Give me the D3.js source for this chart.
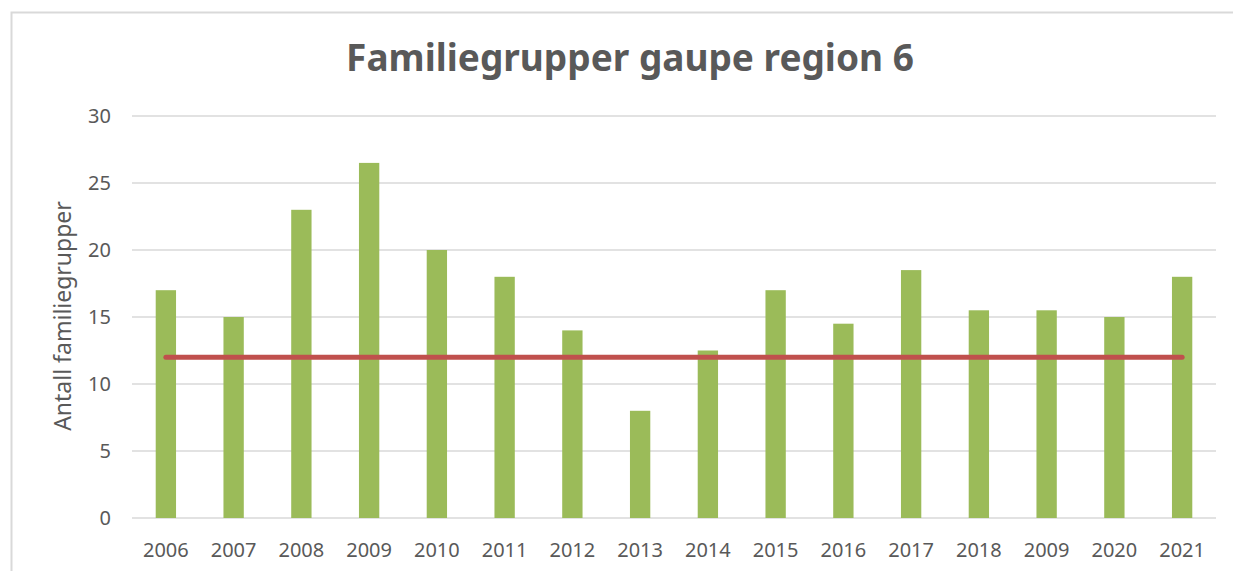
<!DOCTYPE html>
<html>
<head>
<meta charset="utf-8">
<script src="https://cdn.jsdelivr.net/npm/d3@7"></script>
<style>
body{margin:0;background:#fff;}
text{font-family:"Noto Sans","Open Sans",sans-serif;fill:#595959;}
</style>
</head>
<body>
<div id="chart"></div>
<script>
var years = ["2006","2007","2008","2009","2010","2011","2012","2013","2014","2015","2016","2017","2018","2009","2020","2021"]
var counts = [17,15,23,26.5,20,18,14,8,12.5,17,14.5,18.5,15.5,15.5,15,18]
var target = 12
var yTicks = [0,5,10,15,20,25,30]
var title = "Familiegrupper gaupe region 6"
var yTitle = "Antall familiegrupper"

var width = 1233
var height = 571
var plotLeft = 132, plotRight = 1216, plotTop = 116, plotBottom = 518

var svg = d3.select("#chart").append("svg").attr("width",width).attr("height",height)

// frame round the chart area
svg.append("path")
.attr("d","M11.5,"+height+" V12.5 H"+width)
.attr("fill","none")
.attr("stroke","#d9d9d9")
.attr("stroke-width",2)

var idx = d3.range(years.length)
var xScale = d3.scaleBand().domain(idx).range([plotLeft,plotRight]).paddingInner(0.7).paddingOuter(0.35)
var yScale = d3.scaleLinear().domain([0,30]).range([plotBottom,plotTop])

svg.selectAll(".grid")
.data(yTicks)
.enter()
.append("line")
.attr("x1",plotLeft)
.attr("x2",plotRight)
.attr("y1",function(d){return yScale(d)})
.attr("y2",function(d){return yScale(d)})
.attr("stroke","#d9d9d9")
.attr("stroke-width",1.5)

svg.selectAll(".ytick")
.data(yTicks)
.enter()
.append("text")
.attr("x",plotLeft-21)
.attr("y",function(d){return yScale(d)+7})
.attr("text-anchor","end")
.style("font-size","20px")
.text(function(d){return d})

svg.selectAll(".bar")
.data(counts)
.enter()
.append("rect")
.attr("x",function(d,i){return xScale(i)})
.attr("y",function(d){return yScale(d)})
.attr("width",xScale.bandwidth())
.attr("height",function(d){return plotBottom-yScale(d)})
.attr("fill","#9bbb59")

svg.selectAll(".xtick")
.data(years)
.enter()
.append("text")
.attr("x",function(d,i){return xScale(i)+xScale.bandwidth()/2})
.attr("y",557)
.attr("text-anchor","middle")
.style("font-size","20px")
.text(function(d){return d})

var line = d3.line()
.x(function(d){return xScale(d)+xScale.bandwidth()/2})
.y(function(d){return yScale(target)})

svg.append("path")
.attr("d",line(idx))
.attr("fill","none")
.attr("stroke","#c0504d")
.attr("stroke-width",5)
.attr("stroke-linecap","round")

svg.append("text")
.attr("x",630)
.attr("y",71)
.attr("text-anchor","middle")
.style("font-size","37px")
.style("font-weight","bold")
.text(title)

svg.append("text")
.attr("transform","translate(71,316) rotate(-90)")
.attr("text-anchor","middle")
.style("font-size","23px")
.text(yTitle)
</script>
</body>
</html>
